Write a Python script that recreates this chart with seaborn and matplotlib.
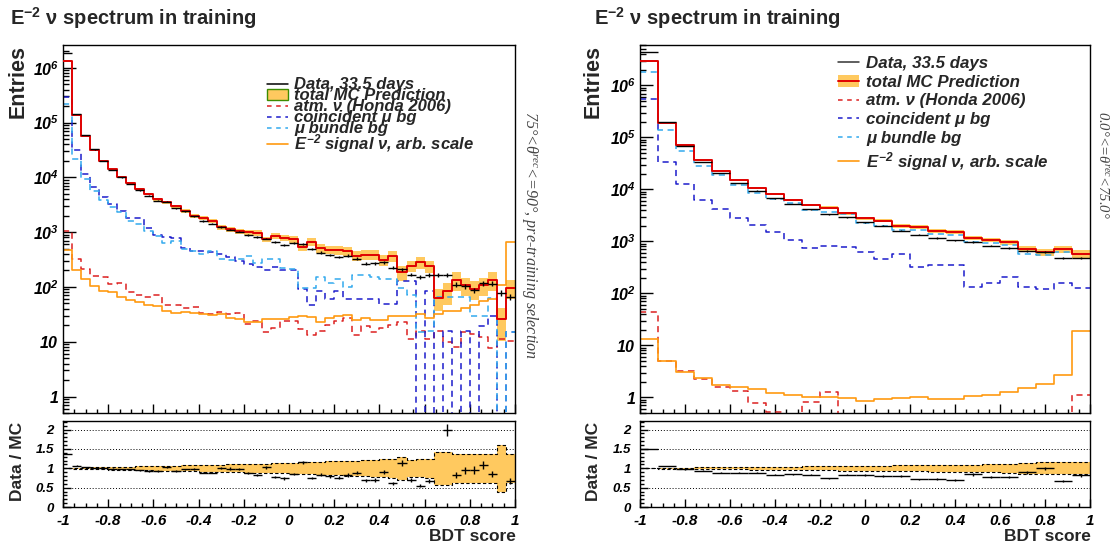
import numpy as np
import matplotlib
matplotlib.use("Agg")
import matplotlib.pyplot as plt
from matplotlib.lines import Line2D
from matplotlib.patches import Patch
from matplotlib.ticker import MultipleLocator, LogLocator, FixedLocator, FuncFormatter, NullFormatter
import seaborn as sns

# ---------------------------------------------------------------- binning
edges_left = np.linspace(-1.0, 1.0, 51)    # 50 bins, 75-90 deg sample
edges_right = np.linspace(-1.0, 1.0, 26)   # 25 bins, 0-75 deg sample

# ---------------------------------------------------------------- 75 < theta <= 90
mc_left = [1.34e6, 1.35e5, 5.7e4, 3.2e4, 2.0e4, 1.39e4, 1.02e4, 7.8e3, 6.1e3, 5.0e3,
           4.0e3, 3.5e3, 2.95e3, 2.46e3, 1.97e3, 1.8e3, 1.6e3, 1.23e3, 1.12e3, 1.04e3,
           1.0e3, 980, 740, 850, 790, 740, 530, 660, 510, 480,
           465, 450, 370, 385, 390, 310, 370, 185, 240, 280,
           240, 63, 83, 134, 107, 93, 107, 134, 26, 97]
mc_err_left = [0.005, 0.012, 0.018, 0.024, 0.03, 0.035, 0.04, 0.045, 0.05, 0.055,
               0.06, 0.065, 0.07, 0.075, 0.08, 0.085, 0.09, 0.095, 0.10, 0.105,
               0.11, 0.115, 0.12, 0.125, 0.13, 0.14, 0.15, 0.16, 0.17, 0.175,
               0.18, 0.19, 0.20, 0.21, 0.22, 0.23, 0.24, 0.30, 0.22, 0.23,
               0.24, 0.43, 0.43, 0.37, 0.37, 0.37, 0.37, 0.37, 0.61, 0.38]
ratio_left = [1.37, 1.07, 1.03, 1.01, 1.00, 0.99, 0.98, 0.97, 0.95, 0.93,
              0.93, 1.02, 0.93, 0.97, 0.98, 0.89, 0.89, 1.01, 0.99, 0.98,
              0.88, 0.83, 1.03, 0.78, 0.74, 0.85, 1.15, 0.75, 0.83, 0.79,
              0.76, 0.83, 0.89, 0.69, 0.70, 0.90, 0.61, 1.14, 0.70, 0.55,
              0.68, 2.60, 2.00, 0.82, 0.95, 0.95, 1.08, 0.86, 3.00, 0.67]
atm_left = [1.07e3, 320, 215, 160, 150, 112, 120, 80, 70, 66,
            70, 47, 46, 41, 43, 34, 32, 35, 32, 34,
            21, 24, 15, 18, 24, 24, 17, 13.5, 16, 20,
            24, 27, 13, 19, 15, 18, 20, 23, 11, 15.5,
            11, 16, 10, 8, 15, 14, 12, 7.6, 11, 10.5]
coinc_left = [2.9e5, 3.1e4, 1.17e4, 6.8e3, 4.4e3, 3.2e3, 2.4e3, 1.8e3, 1.8e3, 1.2e3,
              900, 800, 780, 520, 460, 460, 430, 400, 350, 300,
              265, 230, 200, 230, 200, 200, 92, 46, 85, 60,
              85, 60, 60, 60, 60, 49, 49, 130, 130, 0,
              85, 0, 16, 0, 16, 0, 19, 30, 0, 15]
bundle_left = [2.2e5, 2.2e4, 9.5e3, 5.6e3, 3.9e3, 2.9e3, 2.3e3, 1.6e3, 1.4e3, 1.05e3,
               850, 620, 700, 500, 460, 400, 460, 330, 310, 330,
               370, 270, 330, 330, 220, 210, 95, 95, 150, 120,
               140, 100, 165, 165, 150, 140, 140, 95, 70, 15,
               16, 65, 65, 65, 65, 30, 30, 62, 0, 15]
signal_left = [480, 205, 142, 105, 85, 80, 66, 58, 52, 47,
               45, 37, 33, 35, 34, 32, 31, 32, 27.5, 25.6,
               22.5, 23, 25.6, 26, 26, 28, 29.5, 28, 23, 27,
               29.5, 31, 24.5, 27, 25, 24.5, 30, 29, 30, 32,
               27, 32, 36, 37, 41, 47, 55, 59, 110, 650]

# ---------------------------------------------------------------- 0 <= theta < 75
mc_right = [2.9e6, 1.9e5, 7.1e4, 3.6e4, 2.3e4, 1.5e4, 1.07e4, 8.1e3, 6.2e3, 5.0e3,
            4.45e3, 3.5e3, 2.8e3, 2.5e3, 2.0e3, 1.9e3, 1.6e3, 1.5e3, 1.16e3, 1.08e3,
            960, 720, 625, 715, 580]
mc_err_right = [0.005, 0.01, 0.015, 0.02, 0.025, 0.03, 0.035, 0.04, 0.045, 0.05,
                0.055, 0.06, 0.065, 0.07, 0.075, 0.08, 0.085, 0.09, 0.095, 0.10,
                0.11, 0.14, 0.15, 0.15, 0.16]
ratio_right = [1.50, 1.06, 0.97, 0.94, 0.89, 0.89, 0.89, 0.83, 0.85, 0.83,
               0.74, 0.83, 0.83, 0.80, 0.80, 0.71, 0.73, 0.70, 0.84, 0.77,
               0.77, 0.90, 1.00, 0.67, 0.82]
atm_right = [44, 5.0, 3.2, 2.3, 1.6, 1.35, 0.78, 0.52, 0, 0.83,
             1.28, 0, 0, 0, 0, 0, 0, 0, 0, 0,
             0, 0, 0, 0, 1.1]
coinc_right = [5.4e5, 3.4e4, 1.26e4, 6.2e3, 4.2e3, 2.8e3, 2.1e3, 1.55e3, 1.07e3, 760,
               815, 770, 615, 465, 570, 318, 345, 345, 132, 160,
               205, 132, 119, 160, 128]
bundle_right = [1.8e6, 1.4e5, 5.5e4, 2.8e4, 1.87e4, 1.2e4, 8.7e3, 6.5e3, 5.6e3, 4.1e3,
                3.6e3, 3.3e3, 2.3e3, 2.0e3, 1.67e3, 1.67e3, 1.38e3, 1.3e3, 960, 930,
                860, 570, 555, 625, 560]
signal_right = [13, 5.0, 3.1, 2.35, 1.75, 1.57, 1.42, 1.2, 1.09, 1.0,
                1.0, 0.99, 0.84, 0.94, 0.97, 1.0, 0.92, 0.94, 1.05, 1.13,
                1.25, 1.5, 1.83, 2.75, 19.3]

legend_labels = ["Data, 33.5 days", "total MC Prediction", "atm. ν (Honda 2006)",
                 "coincident μ bg", "μ bundle bg", r"$E^{-2}$ signal ν, arb. scale"]
x_ticks = [-1.0, -0.8, -0.6, -0.4, -0.2, 0.0, 0.2, 0.4, 0.6, 0.8, 1.0]
x_tick_labels = ["-1", "-0.8", "-0.6", "-0.4", "-0.2", "0", "0.2", "0.4", "0.6", "0.8", "1"]
ratio_ticks = [0.0, 0.5, 1.0, 1.5, 2.0]
ratio_tick_labels = ["0", "0.5", "1", "1.5", "2"]

# ---------------------------------------------------------------- style
sns.set_theme(style="ticks")
plt.rcParams.update({
    "font.family": ["Liberation Sans", "DejaVu Sans"],
    "mathtext.fontset": "custom",
    "mathtext.rm": "Liberation Sans:bold:italic",
    "mathtext.it": "Liberation Sans:bold:italic",
    "mathtext.bf": "Liberation Sans:bold",
    "mathtext.sf": "Liberation Serif:italic",
    "axes.unicode_minus": False,
    "axes.linewidth": 1.0,
    "axes.edgecolor": "black",
    "axes.facecolor": "white",
    "xtick.direction": "in",
    "ytick.direction": "in",
    "xtick.color": "black",
    "ytick.color": "black",
})

COL_BAND = "#ffc95f"
COL_MC = "#e00000"
COL_ATM = "#dd2020"
COL_COINC = "#1c1ccc"
COL_BUNDLE = "#33aaee"
COL_SIG = "#ff9a10"
DASH = (0, (4, 3))
TICK_FONT = {"fontweight": "bold", "fontstyle": "italic"}


def legend_font(size):
    return {"family": "Liberation Sans", "weight": "bold", "style": "italic", "size": size}


def step_hist(ax, edges, values, **kw):
    centers = 0.5 * (edges[:-1] + edges[1:])
    sns.histplot(x=centers, weights=np.asarray(values, float), bins=list(edges),
                 element="step", fill=False, ax=ax, **kw)


def log_label(v, pos):
    if v <= 0:
        return ""
    e = int(round(np.log10(v)))
    if e == 0:
        return r"$1$"
    if e == 1:
        return r"$10$"
    return r"$10^{%d}$" % e


def draw_panel(ax, axr, edges, mc, err, ratio, atm, coinc, bundle, signal, ylim):
    mc = np.asarray(mc, float)
    err = np.asarray(err, float)
    ratio = np.asarray(ratio, float)
    data = np.round(mc * ratio)
    centers = 0.5 * (edges[:-1] + edges[1:])
    halfw = 0.5 * np.diff(edges)

    ax.set_yscale("log", nonpositive="clip")
    lo = mc * (1 - err)
    hi = mc * (1 + err)
    ax.fill_between(edges, np.append(lo, lo[-1]), np.append(hi, hi[-1]), step="post",
                    color=COL_BAND, lw=0, zorder=1)
    step_hist(ax, edges, atm, color=COL_ATM, linestyle=DASH, linewidth=1.1, zorder=2)
    step_hist(ax, edges, coinc, color=COL_COINC, linestyle=DASH, linewidth=1.1, zorder=2)
    step_hist(ax, edges, bundle, color=COL_BUNDLE, linestyle=DASH, linewidth=1.1, zorder=2)
    step_hist(ax, edges, signal, color=COL_SIG, linestyle="-", linewidth=1.2, zorder=2)
    step_hist(ax, edges, mc, color=COL_MC, linestyle="-", linewidth=1.4, zorder=4)
    ax.errorbar(centers, data, xerr=halfw, yerr=np.sqrt(data), fmt="none",
                ecolor="black", elinewidth=1.0, zorder=5)

    ax.set_xlim(-1, 1)
    ax.set_ylim(*ylim)
    ax.set_xlabel("")
    ax.set_ylabel("")
    ax.xaxis.set_major_locator(FixedLocator(x_ticks))
    ax.xaxis.set_minor_locator(MultipleLocator(0.05))
    ax.tick_params(axis="x", which="major", length=6.5, width=1, labelbottom=False, top=False)
    ax.tick_params(axis="x", which="minor", length=3, width=1, top=False)
    ax.yaxis.set_major_locator(LogLocator(base=10, numticks=20))
    ax.yaxis.set_minor_locator(LogLocator(base=10, subs=np.arange(2, 10), numticks=20))
    ax.yaxis.set_major_formatter(FuncFormatter(log_label))
    ax.yaxis.set_minor_formatter(NullFormatter())
    ax.tick_params(axis="y", which="major", length=9, width=1, right=False,
                   labelsize=11.5, pad=3)
    ax.tick_params(axis="y", which="minor", length=4.5, width=1, right=False)

    # ratio panel
    el = np.append(err, err[-1])
    for yv in (0.5, 1.0, 1.5, 2.0):
        axr.axhline(yv, color="black", ls=(0, (1, 2)), lw=0.7, zorder=0.5)
    axr.fill_between(edges, 1 - el, 1 + el, step="post", color=COL_BAND, lw=0, zorder=1)
    axr.step(edges, 1 + el, where="post", color="black", ls=(0, (3, 2)), lw=0.8, zorder=2)
    axr.step(edges, 1 - el, where="post", color="black", ls=(0, (3, 2)), lw=0.8, zorder=2)
    axr.errorbar(centers, ratio, xerr=halfw, yerr=np.sqrt(data) / mc, fmt="none",
                 ecolor="black", elinewidth=1.0, zorder=3)
    axr.set_xlim(-1, 1)
    axr.set_ylim(0, 2.22)
    axr.set_xticks(x_ticks, labels=x_tick_labels, fontsize=11, **TICK_FONT)
    axr.set_yticks(ratio_ticks, labels=ratio_tick_labels, fontsize=9.5, **TICK_FONT)
    axr.xaxis.set_minor_locator(MultipleLocator(0.05))
    axr.yaxis.set_minor_locator(MultipleLocator(0.1))
    axr.tick_params(axis="x", which="major", length=6, width=1, top=False, pad=5)
    axr.tick_params(axis="x", which="minor", length=3, width=1, top=False)
    axr.tick_params(axis="y", which="major", length=6, width=1, right=False, pad=6.5)
    axr.tick_params(axis="y", which="minor", length=3, width=1, right=False)
    axr.set_xlabel("")
    axr.set_ylabel("")


W, H = 1112, 550
fig = plt.figure(figsize=(W / 100, H / 100), dpi=100)


def fax(x0, y0, x1, y1):
    return fig.add_axes([x0 / W, 1 - y1 / H, (x1 - x0) / W, (y1 - y0) / H])


ax_l = fax(63, 45, 515, 413)
axr_l = fax(63, 421, 515, 507)
ax_r = fax(640, 45, 1090, 413)
axr_r = fax(640, 421, 1090, 507)

draw_panel(ax_l, axr_l, edges_left, mc_left, mc_err_left, ratio_left,
           atm_left, coinc_left, bundle_left, signal_left, (0.5, 2.6e6))
draw_panel(ax_r, axr_r, edges_right, mc_right, mc_err_right, ratio_right,
           atm_right, coinc_right, bundle_right, signal_right, (0.5, 6e6))

# legends
left_handles = [Line2D([], [], color="black", lw=1.1),
                Patch(facecolor=COL_BAND, edgecolor="#3d8c00", lw=1.0),
                Line2D([], [], color=COL_ATM, ls=(0, (3, 3)), lw=1.1),
                Line2D([], [], color=COL_COINC, ls=(0, (3, 3)), lw=1.1),
                Line2D([], [], color=COL_BUNDLE, ls=(0, (3, 3)), lw=1.1),
                Line2D([], [], color=COL_SIG, lw=1.2)]
ax_l.legend(left_handles, legend_labels, loc="upper left", bbox_to_anchor=(0.451, 0.912),
            frameon=False, prop=legend_font(12), labelspacing=-0.24, handlelength=1.25,
            handletextpad=0.4, borderpad=0, borderaxespad=0)

right_handles = [Line2D([], [], color="#333333", lw=1.1),
                 (Patch(facecolor=COL_BAND, edgecolor="none"), Line2D([], [], color=COL_MC, lw=1.4)),
                 Line2D([], [], color=COL_ATM, ls=(0, (3, 3)), lw=1.1),
                 Line2D([], [], color=COL_COINC, ls=(0, (3, 3)), lw=1.1),
                 Line2D([], [], color=COL_BUNDLE, ls=(0, (3, 3)), lw=1.1),
                 Line2D([], [], color=COL_SIG, lw=1.2)]
ax_r.legend(right_handles, legend_labels, loc="upper left", bbox_to_anchor=(0.44, 0.97),
            frameon=False, prop=legend_font(12.2), labelspacing=0.22, handlelength=1.25,
            handletextpad=0.4, borderpad=0, borderaxespad=0)

# zenith-range annotations on the right of each panel
serif = {"family": ["Liberation Serif", "DejaVu Serif"], "style": "italic"}
ax_l.text(1.033, 0.82, r"75°<$\mathsf{\theta^{rec}}$<=90°, pre-training selection",
          transform=ax_l.transAxes, rotation=-90, ha="center", va="top",
          fontsize=11.5, color="#444444", **serif)
ax_r.text(1.029, 0.82, r"0.0°<=$\mathsf{\theta^{rec}}$<75.0°",
          transform=ax_r.transAxes, rotation=-90, ha="center", va="top",
          fontsize=10.5, color="#444444", **serif)

# titles and axis titles
for x0, xl, xr in ((10, 18, 516), (594, 593, 1091)):
    fig.text(x0 / W, 1 - 5 / H, r"E$^{\mathbf{-2}}$ ν spectrum in training",
             fontsize=14.5, fontweight="bold", ha="left", va="top")
    fig.text(xl / W, 1 - 45 / H, "Entries", rotation=90, fontsize=15.5,
             fontweight="bold", ha="center", va="top")
    fig.text(xl / W, 1 - 422 / H, "Data / MC", rotation=90, fontsize=12.5,
             fontweight="bold", ha="center", va="top")
    fig.text(xr / W, 1 - 529 / H, "BDT score", fontsize=12.5, fontweight="bold",
             ha="right", va="top")

fig.savefig("out.png", dpi=100)
